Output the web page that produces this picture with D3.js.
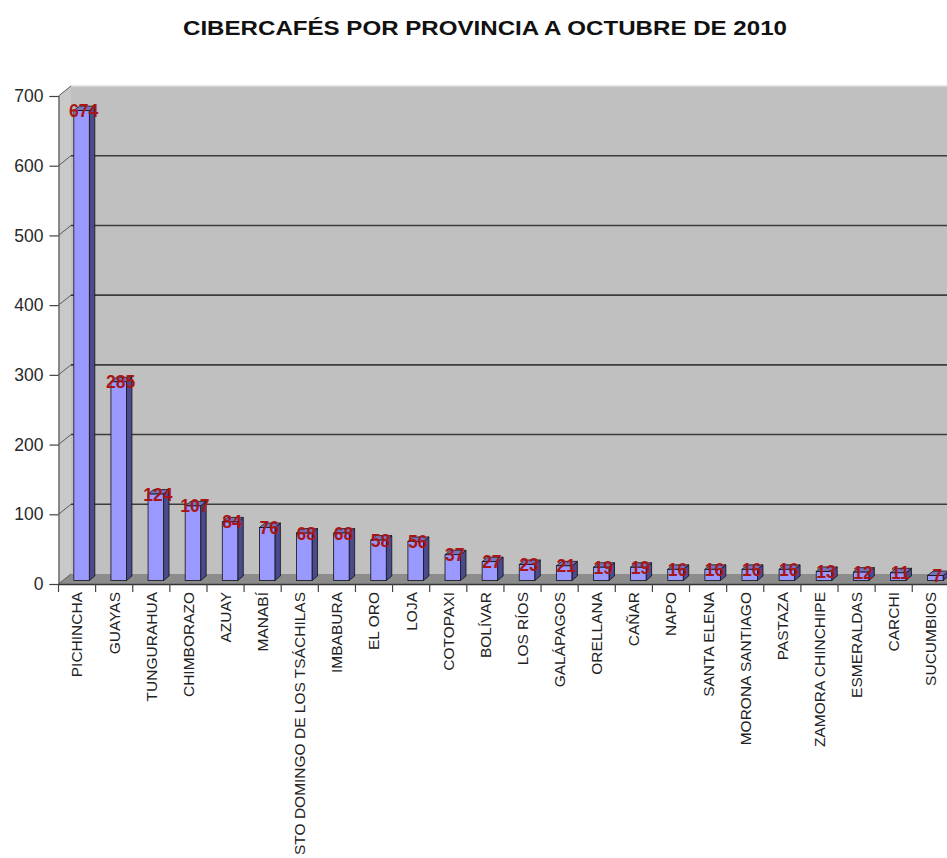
<!DOCTYPE html>
<html>
<head>
<meta charset="utf-8">
<script src="https://cdn.jsdelivr.net/npm/d3@7"></script>
<style>
  html, body { margin: 0; padding: 0; background: #fff; }
  svg { display: block; }
</style>
</head>
<body>
<svg id="chart" width="947" height="858"></svg>
<script>
// Cibercafés por provincia (octubre 2010)
const provinces = [
  "PICHINCHA", "GUAYAS", "TUNGURAHUA", "CHIMBORAZO", "AZUAY", "MANABÍ",
  "STO DOMINGO DE LOS TSÁCHILAS", "IMBABURA", "EL ORO", "LOJA", "COTOPAXI",
  "BOLÍVAR", "LOS RÍOS", "GALÁPAGOS", "ORELLANA", "CAÑAR", "NAPO",
  "SANTA ELENA", "MORONA SANTIAGO", "PASTAZA", "ZAMORA CHINCHIPE",
  "ESMERALDAS", "CARCHI", "SUCUMBIOS"
];
const cibercafes = [674, 285, 124, 107, 84, 76, 68, 68, 58, 56, 37, 27, 23, 21, 19, 19, 16, 16, 16, 16, 13, 12, 11, 7];
const yTicks = [0, 100, 200, 300, 400, 500, 600, 700];
const chartTitle = "CIBERCAFÉS POR PROVINCIA A OCTUBRE DE 2010";

const svg = d3.select("#chart");
const W = 947;
const FONT = "Liberation Sans, Arial, sans-serif";

// plot frame (front plane) and 3D depth offsets
const x0 = 58.5, band = 37.12;
const y0 = 584, yTop = 96;
const DX = 12.5, DY = -10;           // depth of walls
const BOX = 4.5, BOY = -3.5;         // front face offset of bars
const BDX = 5.5, BDY = -4.5;         // depth of bars
const barW = 15.5;

const x = d3.scaleBand().domain(provinces).range([x0, x0 + band * provinces.length]).padding(0);
const y = d3.scaleLinear().domain([0, 700]).range([y0, yTop]);

const pts = a => a.map(p => p.join(",")).join(" ");
const xRight = W + 5;

// back wall
svg.append("polygon")
  .attr("points", pts([[x0 + DX, y(700) + DY], [xRight, y(700) + DY], [xRight, y(0) + DY], [x0 + DX, y(0) + DY]]))
  .attr("fill", "#c0c0c0");
// top edge of the back wall
svg.append("line")
  .attr("x1", x0 + DX).attr("x2", xRight)
  .attr("y1", y(700) + DY).attr("y2", y(700) + DY)
  .attr("stroke", "#dcdcdc").attr("stroke-width", 1.5);

// left side wall
svg.append("polygon")
  .attr("points", pts([[x0, y(700)], [x0 + DX, y(700) + DY], [x0 + DX, y(0) + DY], [x0, y(0)]]))
  .attr("fill", "#c9c9c9");

// floor
svg.append("polygon")
  .attr("points", pts([[x0, y(0)], [x0 + DX, y(0) + DY], [xRight, y(0) + DY], [xRight, y(0)]]))
  .attr("fill", "#8c8c8c");

// gridlines on the back wall and their traces on the side wall
const grid = yTicks.filter(v => v > 0 && v < 700);
svg.append("g").selectAll("line").data(grid).join("line")
  .attr("x1", x0 + DX).attr("x2", xRight)
  .attr("y1", d => y(d) + DY).attr("y2", d => y(d) + DY)
  .attr("stroke", "#3c3c3c").attr("stroke-width", 1.6);
svg.append("g").selectAll("line").data(yTicks).join("line")
  .attr("x1", x0).attr("x2", x0 + DX)
  .attr("y1", d => y(d)).attr("y2", d => y(d) + DY)
  .attr("stroke", "#5a5a5a").attr("stroke-width", 1);

// value axis (front left edge)
const yAxis = d3.axisLeft(y).tickValues(yTicks).tickSize(9).tickPadding(6);
const gy = svg.append("g").attr("transform", `translate(${x0},0)`).call(yAxis);
gy.select(".domain").attr("stroke", "#555").attr("stroke-width", 1.2);
gy.selectAll(".tick line").attr("stroke", "#444").attr("stroke-width", 1.2);
gy.selectAll(".tick text")
  .attr("font-family", FONT)
  .attr("font-size", 17.5).attr("fill", "#2a2a2a");

// bars drawn as 3D columns: side, top, front
const bars = svg.append("g").selectAll("g").data(provinces).join("g");
bars.each(function (p, i) {
  const v = cibercafes[i];
  const g = d3.select(this);
  const fx = x(p) + (band - barW) / 2 + BOX;
  const fy0 = y(0) + BOY, fy1 = y(v) + BOY;
  // right side face
  g.append("polygon")
    .attr("points", pts([[fx + barW, fy1], [fx + barW + BDX, fy1 + BDY], [fx + barW + BDX, fy0 + BDY], [fx + barW, fy0]]))
    .attr("fill", "#4a4a8c").attr("stroke", "#111").attr("stroke-width", 0.8);
  // top face
  g.append("polygon")
    .attr("points", pts([[fx, fy1], [fx + BDX, fy1 + BDY], [fx + barW + BDX, fy1 + BDY], [fx + barW, fy1]]))
    .attr("fill", "#7373c0").attr("stroke", "#111").attr("stroke-width", 0.8);
  // front face
  g.append("rect")
    .attr("x", fx).attr("y", fy1).attr("width", barW).attr("height", fy0 - fy1)
    .attr("fill", "#9999ff").attr("stroke", "#111").attr("stroke-width", 0.8);
});

// category axis along the front edge of the floor
const xAxis = d3.axisBottom(x).tickSize(0).tickFormat("");
svg.append("g").attr("transform", `translate(0,${y0})`).call(xAxis)
  .select(".domain").attr("stroke", "#333").attr("stroke-width", 1.6);
svg.append("line").attr("x1", x0 + band * provinces.length).attr("x2", xRight)
  .attr("y1", y0).attr("y2", y0).attr("stroke", "#333").attr("stroke-width", 1.6);
svg.append("g").selectAll("line").data(d3.range(provinces.length + 1)).join("line")
  .attr("x1", i => x0 + i * band).attr("x2", i => x0 + i * band)
  .attr("y1", y0).attr("y2", y0 + 8)
  .attr("stroke", "#444").attr("stroke-width", 1.2);

// category labels, rotated
svg.append("g").selectAll("text").data(provinces).join("text")
  .attr("transform", d => `translate(${x(d) + band / 2},${y0 + 8}) rotate(-90)`)
  .attr("text-anchor", "end")
  .attr("dy", "0.35em")
  .attr("font-family", FONT)
  .attr("font-size", 15.5).attr("fill", "#222")
  .text(d => d);

// value labels at the top of each column
svg.append("g").selectAll("text").data(provinces).join("text")
  .attr("x", d => x(d) + (band - barW) / 2 + BOX + barW / 2 + 2)
  .attr("y", (d, i) => y(cibercafes[i]) + BOY + 6.5)
  .attr("text-anchor", "middle")
  .attr("font-family", FONT)
  .attr("font-weight", "bold")
  .attr("font-size", 17.5).attr("fill", "#a81616")
  .text((d, i) => cibercafes[i]);

// title
svg.append("text")
  .attr("x", 485).attr("y", 35)
  .attr("text-anchor", "middle")
  .attr("font-family", FONT)
  .attr("font-weight", "bold").attr("font-size", 21)
  .attr("textLength", 604).attr("lengthAdjust", "spacingAndGlyphs")
  .attr("fill", "#111")
  .text(chartTitle);
</script>
</body>
</html>
